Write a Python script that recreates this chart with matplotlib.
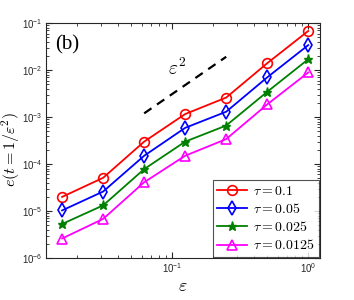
import numpy as np
import matplotlib.pyplot as plt

plt.rcParams['mathtext.fontset'] = 'cm'
plt.rcParams['font.family'] = 'Liberation Sans'

eps = [1/64, 1/32, 1/16, 1/8, 1/4, 1/2, 1]
err_01 = [2.0e-5, 5.1e-5, 3.0e-4, 1.16e-3, 2.6e-3, 1.4e-2, 6.8e-2]
err_005 = [1.03e-5, 2.6e-5, 1.5e-4, 5.9e-4, 1.3e-3, 7.0e-3, 3.4e-2]
err_0025 = [5.3e-6, 1.32e-5, 7.8e-5, 3.0e-4, 6.6e-4, 3.45e-3, 1.7e-2]
err_00125 = [2.6e-6, 6.8e-6, 4.1e-5, 1.5e-4, 3.4e-4, 1.86e-3, 8.9e-3]
labels = [r'$\tau = 0.1$', r'$\tau = 0.05$', r'$\tau = 0.025$', r'$\tau = 0.0125$']

ref_x = [0.0625, 0.25]
ref_y = [1.2e-3, 1.92e-2]

fig = plt.figure(figsize=(3.54, 3.0), dpi=100)
ax = fig.add_axes([0.130, 0.14, 0.774, 0.783])

ax.loglog(eps, err_01, '-o', color='#ff0000', mfc='none', ms=7, mew=1.2, lw=1.3, label=labels[0])
ax.loglog(eps, err_005, '-d', color='#0000ff', mfc='none', ms=7, mew=1.2, lw=1.3, label=labels[1])
ax.loglog(eps, err_0025, '-*', color='#008000', ms=6.5, mew=1.0, lw=1.3, label=labels[2])
ax.loglog(eps, err_00125, '-^', color='#ff00ff', mfc='none', ms=7, mew=1.2, lw=1.3, label=labels[3])
ax.loglog(ref_x, ref_y, '--', color='black', lw=1.6, dashes=(4, 3))

ax.text(0.11, 0.011, r'$\varepsilon^2$', fontsize=14, ha='center', va='center')
ax.text(0.017, 0.034, '(b)', fontsize=15, family='Liberation Serif', ha='center', va='center')

ax.set_xlim(0.0119, 1.22)
ax.set_ylim(1e-6, 1e-1)
ax.set_xlabel(r'$\varepsilon$', fontsize=13, labelpad=2)
ax.set_ylabel(r'$e(t=1/\varepsilon^2)$', fontsize=11.5)
ax.yaxis.set_label_coords(-0.088, 0.46)

ax.tick_params(which='both', direction='in', top=True, right=True, labelsize=7, colors='#262626', labelcolor='#262626')
ax.tick_params(which='major', length=4, pad=2.5)
ax.tick_params(which='minor', length=2)
for s in ax.spines.values():
    s.set_color('#262626')
    s.set_linewidth(0.8)

leg = ax.legend(loc='lower right', fontsize=10, handlelength=2.2, borderpad=0.3,
                labelspacing=0.3, handletextpad=0.4, borderaxespad=0.1, fancybox=False)
leg.get_frame().set_edgecolor('#262626')
leg.get_frame().set_linewidth(0.8)

fig.savefig('out.png', dpi=100)
